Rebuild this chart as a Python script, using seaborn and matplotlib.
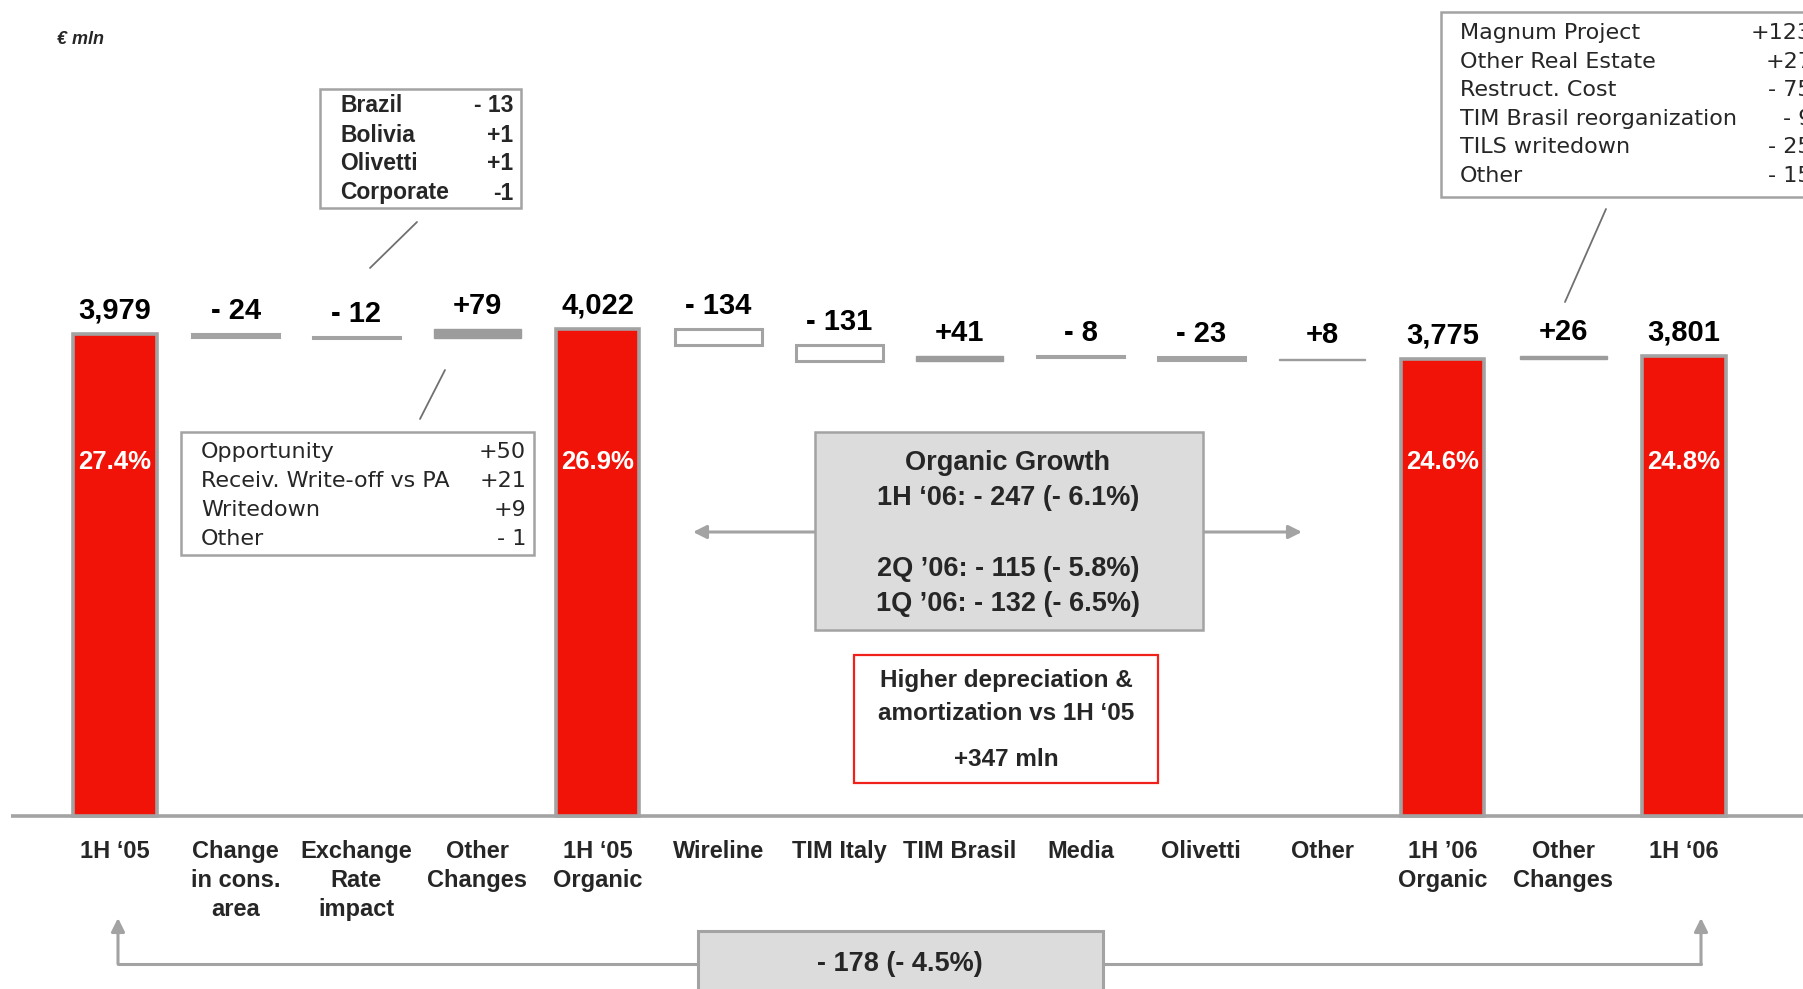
import numpy as np
import pandas as pd
import matplotlib
matplotlib.use("Agg")
import matplotlib.pyplot as plt
from matplotlib.patches import Rectangle
from matplotlib.lines import Line2D
import seaborn as sns

# ---------------- data ----------------
categories = ["1H \u201805", "Change\nin cons.\narea", "Exchange\nRate\nimpact", "Other\nChanges",
              "1H \u201805\nOrganic", "Wireline", "TIM Italy", "TIM Brasil", "Media", "Olivetti",
              "Other", "1H \u201906\nOrganic", "Other\nChanges", "1H \u201806"]
step_type = ["total", "delta", "delta", "delta", "total", "delta", "delta", "delta", "delta",
             "delta", "delta", "total", "delta", "total"]
totals = [3979, 4022, 3775, 3801]
deltas = [-24, -12, 79, -134, -131, 41, -8, -23, 8, 26]
margins = ["27.4%", "26.9%", "24.6%", "24.8%"]

brazil_items = ["Brazil", "Bolivia", "Olivetti", "Corporate"]
brazil_vals = ["- 13", "+1", "+1", "-1"]
opp_items = ["Opportunity", "Receiv. Write-off vs PA", "Writedown", "Other"]
opp_vals = ["+50", "+21", "+9", "- 1"]
magnum_items = ["Magnum Project", "Other Real Estate", "Restruct. Cost",
                "TIM Brasil reorganization", "TILS writedown", "Other"]
magnum_vals = ["+123", "+27", "- 75", "- 9", "- 25", "- 15"]
organic_lines = ["Organic Growth", "1H \u201806: - 247 (- 6.1%)", "",
                 "2Q \u201906: - 115 (- 5.8%)", "1Q \u201906: - 132 (- 6.5%)"]
da_lines = ["Higher depreciation &", "amortization vs 1H \u201805", "", "+347 mln"]
total_change = "- 178 (- 4.5%)"
unit_label = "\u20ac mln"

# ---------------- build waterfall table ----------------
rows = []
t_iter = iter(totals)
d_iter = iter(deltas)
running = 0
for i, (cat, kind) in enumerate(zip(categories, step_type)):
    if kind == "total":
        v = next(t_iter)
        rows.append(dict(idx=i, kind=kind, start=0, end=v, value=v))
        running = v
    else:
        d = next(d_iter)
        rows.append(dict(idx=i, kind=kind, start=running, end=running + d, value=d))
        running += d
df = pd.DataFrame(rows)

# ---------------- style ----------------
sns.set_theme(style="white")
plt.rcParams["font.family"] = ["Liberation Sans", "DejaVu Sans"]

W, H = 1803, 989
fig = plt.figure(figsize=(W / 100, H / 100), dpi=100)
ax = fig.add_axes([0, 0, 1, 1])

RED = "#F11208"
GRAY = "#9C9C9C"
EDGE = "#A3A3A3"
BOXFILL = "#DCDCDC"

tot_df = df[df.kind == "total"]
sns.barplot(data=tot_df, x="idx", y="end", order=list(range(len(categories))),
            color=RED, saturation=1, width=0.69, edgecolor=EDGE, linewidth=2.6, ax=ax)

for _, r in df[df.kind == "delta"].iterrows():
    lo, hi = min(r.start, r.end), max(r.start, r.end)
    if r.value > 0:
        ax.bar(r.idx, hi - lo, bottom=lo, width=0.72, color=GRAY, edgecolor=GRAY, linewidth=1.0)
    else:
        ax.bar(r.idx, hi - lo, bottom=lo, width=0.72, color="white", edgecolor=EDGE, linewidth=2.2)

# scale: px per unit
ppu = 482 / 3979.0
base_px = 816
ax.set_ylim(-(H - base_px) / ppu, base_px / ppu)
xsp = 120.7
x0 = 115.0
ax.set_xlim(-x0 / xsp, (W - x0) / xsp)
ax.axis("off")

def dy(py):
    return (base_px - py) / ppu

# baseline
ax.plot([(11 - x0) / xsp, (W - x0) / xsp], [0, 0], color=EDGE, lw=2.6,
        solid_capstyle="butt", zorder=0)

# value labels
for _, r in df.iterrows():
    top = max(r.start, r.end)
    if r.kind == "total":
        lab = f"{r.value:,}"
    else:
        lab = f"+{r.value}" if r.value > 0 else f"- {abs(r.value)}"
    ax.annotate(lab, (r.idx, top), xytext=(0, 11), textcoords="offset points",
                ha="center", va="baseline", fontsize=21, fontweight="bold", color="black")

# margins inside red bars
for (_, r), m in zip(tot_df.iterrows(), margins):
    ax.text(r.idx, dy(462), m, ha="center", va="center", color="white",
            fontsize=18.5, fontweight="bold")

# category labels
for i, c in enumerate(categories):
    ax.text(i, dy(840), c, ha="center", va="top", fontsize=17, fontweight="bold",
            linespacing=1.32)

# ---------- helpers in figure pixel coords ----------
def F(x, y):
    return (x / W, 1 - y / H)

def box(x1, y1, x2, y2, fc="white", ec=EDGE, lw=1.8):
    fig.patches.append(Rectangle(F(x1, y2), (x2 - x1) / W, (y2 - y1) / H,
                                 transform=fig.transFigure, facecolor=fc, edgecolor=ec,
                                 linewidth=lw, zorder=5))

def line(x1, y1, x2, y2, color="#707070", lw=1.3):
    fig.lines.append(Line2D([x1 / W, x2 / W], [1 - y1 / H, 1 - y2 / H],
                            transform=fig.transFigure, color=color, lw=lw, zorder=6))

def arrow(x1, y1, x2, y2):
    ax.annotate("", xy=F(x2, y2), xycoords="figure fraction", xytext=F(x1, y1),
                textcoords="figure fraction",
                arrowprops=dict(arrowstyle="-|>", color=EDGE, lw=2.2,
                                mutation_scale=20, shrinkA=0, shrinkB=0))

def txt(x, y, s, **kw):
    fig.text(x / W, 1 - y / H, s, zorder=7, **kw)

# unit label
txt(57, 40, unit_label, fontsize=13, fontstyle="italic", fontweight="bold", va="center")

# Brazil box
box(320, 89, 521, 208)
for k, (a, b) in enumerate(zip(brazil_items, brazil_vals)):
    yy = 106 + k * 29
    txt(340, yy, a, fontsize=16.5, fontweight="bold", va="center")
    txt(513, yy, b, fontsize=16.5, fontweight="bold", va="center", ha="right")
line(417, 222, 370, 268)

# Opportunity box
box(181, 432, 534, 555)
for k, (a, b) in enumerate(zip(opp_items, opp_vals)):
    yy = 452 + k * 29
    txt(201, yy, a, fontsize=16, va="center", family="DejaVu Sans")
    txt(526, yy, b, fontsize=16, va="center", ha="right", family="DejaVu Sans")
line(445, 370, 420, 419)

# Magnum box
box(1441, 12, 1830, 197)
for k, (a, b) in enumerate(zip(magnum_items, magnum_vals)):
    yy = 33 + k * 28.6
    txt(1460, yy, a, fontsize=16, va="center", family="DejaVu Sans")
    txt(1812, yy, b, fontsize=16, va="center", ha="right", family="DejaVu Sans")
line(1606, 209, 1565, 302)

# Organic growth box
box(815, 432, 1203, 630, fc=BOXFILL)
org_y = [463, 498, 533, 569, 604]
for s, yy in zip(organic_lines, org_y):
    if s:
        txt(1008, yy, s, fontsize=19.5, fontweight="bold", ha="center", va="center")
arrow(815, 532, 693, 532)
arrow(1203, 532, 1302, 532)

# D&A box
box(854, 655, 1158, 783, ec="#F0201A", lw=1.6)
da_y = [681, 713, 737, 760]
for s, yy in zip(da_lines, da_y):
    if s:
        txt(1006, yy, s, fontsize=17.5, fontweight="bold", ha="center", va="center")

# bottom total change
line(118, 964, 698, 964, color=EDGE, lw=2.2)
line(1103, 964, 1701, 964, color=EDGE, lw=2.2)
arrow(118, 964, 118, 918)
arrow(1701, 964, 1701, 918)
box(698, 931, 1103, 1000, fc=BOXFILL, lw=2.2)
txt(900, 964, total_change, fontsize=19.5, fontweight="bold", ha="center", va="center")

fig.savefig("out.png", dpi=100, facecolor="white")
